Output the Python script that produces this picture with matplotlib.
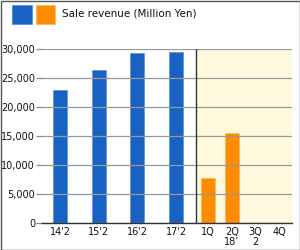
import matplotlib.pyplot as plt
import matplotlib.patches as mpatches
import numpy as np

# datos
years = ["14'2", "15'2", "16'2", "17'2"]
year_sales = [23000, 26400, 29350, 29550]
quarters = ["1Q", "2Q", "3Q", "4Q"]
quarter_sales = [7800, 15500]  # solo 1Q y 2Q publicados
yticks = [0, 5000, 10000, 15000, 20000, 25000, 30000]
legend_label = "Sale revenue (Million Yen)"

blue = '#1862c4'
orange = '#ff8c00'

fig = plt.figure(figsize=(3, 2.5), dpi=100)
ax = fig.add_axes([42/300, 1-223.3/250, 250/300, 174/250])

# posiciones en px dentro del eje
x_years = 18 + 38.7*np.arange(len(years))
x_quarters = 166 + 23.7*np.arange(len(quarters))
split = 154

ax.axvspan(split, 250, color='#fff9de', zorder=0, lw=0)
ax.axvline(split, color='#333333', lw=1.0, zorder=3)

ax.bar(x_years, year_sales, width=14, color=blue, edgecolor='#5a8fd8', lw=0.5, zorder=2)
ax.bar(x_quarters[:len(quarter_sales)], quarter_sales, width=14, color=orange,
       edgecolor='#ffb860', lw=0.5, zorder=2)

ax.set_xlim(0, 250)
ax.set_ylim(0, 30000)
ax.set_yticks(yticks)
ax.set_yticklabels(['{:,}'.format(v) for v in yticks])
ax.yaxis.grid(True, color='#999999', lw=0.9, zorder=1)
ax.set_axisbelow(False)
for gl in ax.get_ygridlines():
    gl.set_zorder(1)

ax.set_xticks(list(x_years) + list(x_quarters))
ax.set_xticklabels(years + quarters)
ax.tick_params(axis='x', length=0, pad=2.5, labelsize=7, colors='#111111')
ax.tick_params(axis='y', length=4, width=0.9, color='#888888', pad=1,
               labelsize=7, labelcolor='#111111')

for s in ['top', 'right', 'left']:
    ax.spines[s].set_visible(False)
ax.spines['bottom'].set_color('#333333')
ax.spines['bottom'].set_linewidth(1.0)
ax.spines['bottom'].set_zorder(4)

# segunda línea de etiquetas: 18' 2
ax.text(x_quarters[1], -0.078, "18’", transform=ax.get_xaxis_transform(),
        ha='center', va='top', fontsize=7, color='#111111')
ax.text(x_quarters[2], -0.078, "2", transform=ax.get_xaxis_transform(),
        ha='center', va='top', fontsize=7, color='#111111')

# leyenda manual
fig.patches.append(mpatches.Rectangle((12/300, 1-24/250), 20/300, 19/250,
                                      transform=fig.transFigure, facecolor=blue,
                                      edgecolor='#5a8fd8', lw=0.6))
fig.patches.append(mpatches.Rectangle((36/300, 1-24/250), 19/300, 19/250,
                                      transform=fig.transFigure, facecolor=orange,
                                      edgecolor='#ffb860', lw=0.6))
fig.text(62/300, 1-14/250, legend_label, ha='left', va='center', fontsize=7.5,
         color='#111111')

# borde
fig.patches.append(mpatches.Rectangle((0.5/300, 0.5/250), 299/300, 249/250,
                                      transform=fig.transFigure, fill=False,
                                      edgecolor='#555555', lw=1.0))

fig.savefig('out.png', dpi=100)
